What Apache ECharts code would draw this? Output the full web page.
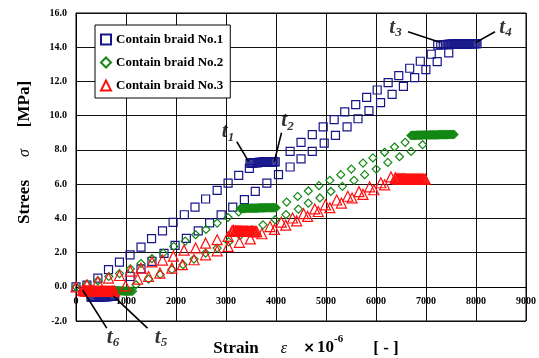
<!DOCTYPE html>
<html><head><meta charset="utf-8">
<script src="https://cdn.jsdelivr.net/npm/echarts@6/dist/echarts.min.js"></script>
<style>html,body{margin:0;padding:0;background:#fff}#c{width:539px;height:358px}</style>
</head><body><div id="c"></div>
<script>
// ---------- data (strain ×10^-6, stress MPa) ----------
const seriesNames = ['Contain braid No.1', 'Contain braid No.2', 'Contain braid No.3'];

// No.1 (blue squares)
const blueLoad1 = [[0,0],[219,0.1],[437,0.5],[650,1.0],[869,1.44],[1081,1.87],[1300,2.32],[1511,2.81],[1730,3.27],[1942,3.76],[2167,4.21],[2380,4.66],[2592,5.13],[2823,5.63],[3042,6.06],[3254,6.51],[3467,6.92]];
const blueHold1 = [[3480,7.22],[3500,7.23],[3520,7.24],[3540,7.24],[3560,7.25],[3580,7.25],[3600,7.26],[3620,7.26],[3640,7.26],[3660,7.27],[3680,7.27],[3700,7.27],[3720,7.27],[3740,7.28],[3760,7.28],[3780,7.28],[3800,7.28],[3820,7.29],[3840,7.29],[3860,7.29],[3880,7.29],[3900,7.29],[3920,7.30],[3940,7.30],[3960,7.30],[3985,7.30]];
const blueLoad2 = [[4282,7.91],[4500,8.44],[4726,8.89],[4944,9.34],[5163,9.77],[5375,10.22],[5594,10.64],[5813,11.07],[6024,11.5],[6243,11.93],[6455,12.34],[6674,12.77],[6886,13.18],[7105,13.59]];
const blueHold2 = [[7235,14.12],[7295,14.14],[7345,14.15],[7385,14.16],[7420,14.16],[7440,14.17],[7460,14.17],[7480,14.17],[7500,14.17],[7520,14.18],[7540,14.18],[7560,14.18],[7580,14.18],[7600,14.18],[7620,14.19],[7640,14.19],[7660,14.19],[7680,14.19],[7700,14.19],[7720,14.19],[7740,14.2],[7760,14.2],[7780,14.2],[7800,14.2],[7820,14.2],[7840,14.2],[7860,14.2],[7880,14.21],[7900,14.21],[7920,14.21],[7940,14.21],[7960,14.21],[7980,14.21],[8000,14.21],[8020,14.21]];
const blueReload = [[1081,0.6],[1300,1.05],[1519,1.48],[1760,1.95],[1982,2.42],[2207,2.83],[2445,3.27],[2672,3.74],[2903,4.2],[3135,4.66],[3368,5.09],[3586,5.57],[3817,6.06],[4050,6.55],[4282,7.0],[4500,7.47],[4725,7.91],[4964,8.4],[5189,8.85],[5421,9.34],[5640,9.82],[5859,10.29],[6091,10.76],[6322,11.25],[6548,11.71],[6773,12.22],[6998,12.69],[7224,13.16],[7455,13.67]];
const blueHold0 = [[300,-0.6],[320,-0.6],[340,-0.6],[360,-0.6],[380,-0.59],[400,-0.59],[420,-0.59],[440,-0.59],[460,-0.59],[480,-0.58],[500,-0.58],[520,-0.58],[540,-0.58],[560,-0.58],[580,-0.57],[600,-0.57],[620,-0.57],[640,-0.57],[660,-0.56],[680,-0.56],[700,-0.56],[720,-0.55],[740,-0.55],[760,-0.55]];

// No.2 (green diamonds)
const greenLoad1 = [[0,0],[219,0.15],[437,0.35],[656,0.6],[869,0.77],[1088,1.05],[1300,1.36],[1519,1.64],[1743,1.97],[1955,2.36],[2185,2.67],[2393,3.04],[2600,3.35],[2823,3.72],[3042,4.05],[3254,4.38]];
const greenHold1 = [[3290,4.57],[3310,4.57],[3330,4.58],[3350,4.58],[3370,4.58],[3390,4.58],[3410,4.59],[3430,4.59],[3450,4.59],[3470,4.59],[3490,4.59],[3510,4.6],[3530,4.6],[3550,4.6],[3570,4.6],[3590,4.6],[3610,4.6],[3630,4.6],[3650,4.61],[3670,4.61],[3690,4.61],[3710,4.61],[3730,4.61],[3750,4.61],[3770,4.61],[3790,4.62],[3810,4.62],[3830,4.62],[3850,4.62],[3870,4.62],[3890,4.62],[3910,4.62],[3930,4.62],[3950,4.62],[3975,4.62],[4000,4.62]];
const greenLoad2 = [[4214,4.95],[4433,5.28],[4646,5.6],[4859,5.91],[5077,6.22],[5296,6.55],[5507,6.88],[5740,7.23],[5938,7.53],[6171,7.86],[6370,8.17],[6583,8.44]];
const greenHold2 = [[6700,8.84],[6720,8.84],[6740,8.85],[6760,8.85],[6780,8.85],[6800,8.85],[6820,8.86],[6840,8.86],[6860,8.86],[6880,8.86],[6900,8.86],[6920,8.86],[6940,8.87],[6960,8.87],[6980,8.87],[7000,8.87],[7020,8.87],[7040,8.87],[7060,8.87],[7080,8.88],[7100,8.88],[7120,8.88],[7140,8.88],[7160,8.88],[7180,8.88],[7200,8.88],[7220,8.88],[7240,8.88],[7260,8.89],[7280,8.89],[7300,8.89],[7320,8.89],[7340,8.89],[7360,8.89],[7380,8.89],[7400,8.89],[7420,8.89],[7440,8.89],[7460,8.9],[7480,8.9],[7500,8.9],[7520,8.9],[7540,8.9],[7560,8.9]];
const greenReload = [[1200,0.12],[1451,0.45],[1684,0.72],[1917,1.0],[2141,1.29],[2360,1.62],[2592,1.97],[2823,2.26],[3055,2.62],[3280,3.0],[3510,3.33],[3740,3.62],[3984,3.92],[4200,4.22],[4447,4.54],[4646,4.89],[4878,5.19],[5097,5.57],[5328,5.87],[5560,6.22],[5773,6.55],[6004,6.88],[6236,7.27],[6470,7.6],[6702,7.91],[6932,8.3]];
const greenHold0 = [[740,-0.22],[760,-0.22],[780,-0.23],[800,-0.23],[820,-0.23],[840,-0.23],[860,-0.24],[880,-0.24],[900,-0.24],[920,-0.24],[940,-0.24],[960,-0.25],[980,-0.25],[1000,-0.25],[1020,-0.25],[1040,-0.25],[1060,-0.26],[1080,-0.26],[1100,-0.26],[1130,-0.26]];

// No.3 (red triangles)
const redLoad1 = [[0,0],[219,0.1],[437,0.3],[650,0.51],[869,0.66],[1088,0.92],[1300,1.09],[1519,1.45],[1730,1.56],[1948,1.79],[2161,2.14],[2393,2.27],[2592,2.55],[2823,2.75],[3042,2.94]];
const redHold1 = [[3120,3.27],[3135,3.24],[3150,3.3],[3170,3.23],[3190,3.27],[3210,3.25],[3230,3.26],[3250,3.25],[3270,3.25],[3290,3.25],[3310,3.25],[3330,3.24],[3350,3.24],[3370,3.24],[3390,3.24],[3410,3.24],[3430,3.24],[3450,3.23],[3470,3.23],[3490,3.23],[3510,3.23],[3530,3.23],[3550,3.23],[3570,3.22],[3590,3.22],[3615,3.22]];
const redLoad2 = [[3880,3.52],[4105,3.78],[4330,4.02],[4552,4.27],[4775,4.55],[4990,4.79],[5214,5.07],[5436,5.29],[5660,5.56],[5873,5.84],[6096,6.08],[6300,6.42]];
const redHold2 = [[6385,6.36],[6400,6.33],[6420,6.31],[6440,6.31],[6460,6.31],[6480,6.31],[6500,6.31],[6520,6.31],[6540,6.31],[6560,6.31],[6580,6.31],[6600,6.3],[6620,6.3],[6640,6.3],[6660,6.3],[6680,6.3],[6700,6.3],[6720,6.3],[6740,6.3],[6760,6.3],[6780,6.3],[6800,6.3],[6820,6.3],[6840,6.3],[6860,6.3],[6880,6.29],[6900,6.29],[6920,6.29],[6940,6.29],[6960,6.29],[6985,6.29]];
const redReload = [[990,0.05],[1233,0.45],[1451,0.6],[1678,0.8],[1917,1.09],[2127,1.29],[2360,1.58],[2592,1.87],[2823,2.1],[3042,2.36],[3268,2.6],[3487,2.8],[3718,3.1],[3970,3.35],[4195,3.6],[4414,3.85],[4633,4.11],[4845,4.4],[5077,4.62],[5308,4.89],[5521,5.19],[5740,5.4],[5958,5.67],[6171,5.96]];
const redHold0 = [[130,-0.2],[150,-0.22],[170,-0.23],[190,-0.24],[210,-0.25],[230,-0.25],[250,-0.25],[270,-0.25],[290,-0.25],[310,-0.25],[330,-0.25],[350,-0.26],[370,-0.26],[390,-0.26],[410,-0.26],[430,-0.26],[450,-0.26],[470,-0.26],[490,-0.26],[510,-0.26],[530,-0.26],[550,-0.27],[570,-0.27],[590,-0.27],[610,-0.27],[630,-0.27],[650,-0.27],[670,-0.27],[690,-0.27],[710,-0.27],[730,-0.27],[750,-0.26],[770,-0.25]];

// annotation labels: [strain, stress] of text, and leader line ends
const tNames = ['1','2','3','4','5','6'];
const tTextPos = [[3040,9.05],[4230,9.7],[6390,15.15],[8590,15.15],[1700,-2.95],[740,-2.95]];
const tLeaders = [
  [[3215,8.48],[3453,7.31]],
  [[4110,9.0],[3965,7.31]],
  [[6640,14.9],[7290,14.27]],
  [[8380,14.9],[7990,14.27]],
  [[1430,-2.42],[750,-0.55]],
  [[615,-2.42],[135,-0.2]]
];

// ---------- chart ----------
const SERIF = "'Liberation Serif','Times New Roman',serif";
const chart = echarts.init(document.getElementById('c'), null, {renderer: 'canvas'});
const colors = ['#16168a', '#138813', '#ff1010'];
const symbols = ['rect', 'diamond', 'triangle'];
const sizes = [8, 8, 10];
const groups = [
  [blueLoad1, blueHold1, blueLoad2, blueHold2, blueReload, blueHold0],
  [greenLoad1, greenHold1, greenLoad2, greenHold2, greenReload, greenHold0],
  [redLoad1, redHold1, redLoad2, redHold2, redReload, redHold0]
];

const series = groups.map((g, i) => ({
  name: seriesNames[i],
  type: 'scatter',
  symbol: symbols[i],
  symbolSize: sizes[i],
  data: [].concat(...g),
  itemStyle: {color: 'rgba(255,255,255,0)', borderColor: colors[i], borderWidth: 1.2, opacity: 1},
  emphasis: {disabled: true},
  z: 3 + i
}));

tLeaders.forEach(seg => series.push({
  type: 'line', data: seg, symbol: 'none', clip: false, silent: true,
  lineStyle: {color: '#000', width: 1.6}, z: 10
}));

series.push({
  type: 'scatter', symbolSize: 0, clip: false, silent: true, z: 11,
  data: tTextPos.map((p, i) => ({value: p, name: tNames[i]})),
  label: {
    show: true, position: 'inside',
    formatter: p => '{t|t}{s|' + p.name + '}',
    rich: {
      t: {fontFamily: SERIF, fontStyle: 'italic', fontWeight: 'bold', fontSize: 21, color: '#000', lineHeight: 24},
      s: {fontFamily: SERIF, fontStyle: 'italic', fontWeight: 'bold', fontSize: 13, color: '#000', verticalAlign: 'bottom', lineHeight: 12}
    }
  }
});

chart.setOption({
  animation: false,
  backgroundColor: '#fff',
  grid: {left: 76, right: 10, top: 13, bottom: 37, show: true, borderColor: '#000', borderWidth: 1, backgroundColor: '#fff'},
  legend: {
    data: seriesNames, orient: 'vertical', left: 95, top: 25,
    backgroundColor: '#fff', borderColor: '#000', borderWidth: 1,
    padding: [8, 7, 6, 5], itemGap: 10, itemWidth: 10, itemHeight: 10,
    textStyle: {fontFamily: SERIF, fontWeight: 'bold', fontSize: 13, color: '#000'},
    selectedMode: false
  },
  xAxis: {
    type: 'value', min: 0, max: 9000, interval: 1000,
    offset: -34,
    axisLine: {onZero: false, lineStyle: {color: '#000', width: 1}},
    axisTick: {show: true, length: 3, lineStyle: {color: '#000'}},
    axisLabel: {fontFamily: SERIF, fontWeight: 'bold', fontSize: 10, color: '#000', margin: 9, formatter: v => String(v)},
    splitLine: {show: true, lineStyle: {color: '#111', width: 1}}
  },
  yAxis: {
    type: 'value', min: -2, max: 16, interval: 2,
    axisLine: {show: true, lineStyle: {color: '#000'}},
    axisTick: {show: false},
    axisLabel: {fontFamily: SERIF, fontWeight: 'bold', fontSize: 10, color: '#000', margin: 9, formatter: v => v.toFixed(1)},
    splitLine: {show: true, lineStyle: {color: '#111', width: 1}}
  },
  graphic: [
    {type: 'text', x: 25, y: 202, rotation: Math.PI / 2, style: {text: 'Strees', font: "bold 17px " + SERIF, fill: '#000', align: 'center', verticalAlign: 'middle'}},
    {type: 'text', x: 25, y: 153, rotation: Math.PI / 2, style: {text: 'σ', font: "italic 16px " + SERIF, fill: '#000', align: 'center', verticalAlign: 'middle'}},
    {type: 'text', x: 25, y: 104, rotation: Math.PI / 2, style: {text: '[MPa]', font: "bold 17px " + SERIF, fill: '#000', align: 'center', verticalAlign: 'middle'}},
    {type: 'text', x: 236, y: 349, style: {text: 'Strain', font: "bold 17px " + SERIF, fill: '#000', align: 'center', verticalAlign: 'middle'}},
    {type: 'text', x: 284, y: 349, style: {text: 'ε', font: "italic 16px " + SERIF, fill: '#000', align: 'center', verticalAlign: 'middle'}},
    {type: 'text', x: 309, y: 348, style: {text: '×', font: "bold 14px 'DejaVu Sans',sans-serif", fill: '#000', align: 'center', verticalAlign: 'middle'}},
    {type: 'text', x: 317, y: 348, style: {text: '10', font: "bold 17px " + SERIF, fill: '#000', align: 'left', verticalAlign: 'middle'}},
    {type: 'text', x: 334, y: 339, style: {text: '-6', font: "bold 11px " + SERIF, fill: '#000', align: 'left', verticalAlign: 'middle'}},
    {type: 'text', x: 386, y: 349, style: {text: '[ - ]', font: "bold 17px " + SERIF, fill: '#000', align: 'center', verticalAlign: 'middle'}}
  ],
  series: series
});
</script></body></html>
